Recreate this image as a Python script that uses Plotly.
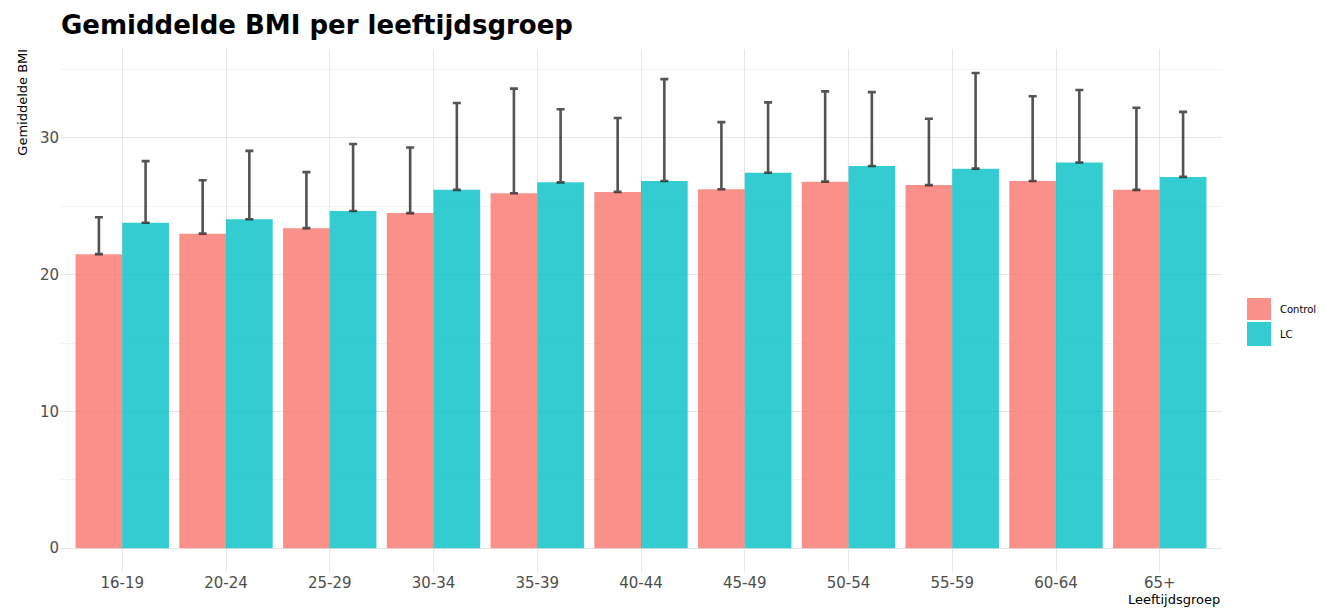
import plotly.graph_objects as go

categories = ["16-19", "20-24", "25-29", "30-34", "35-39", "40-44", "45-49", "50-54", "55-59", "60-64", "65+"]
control_mean = [21.5, 23.0, 23.4, 24.5, 25.95, 26.05, 26.25, 26.8, 26.55, 26.85, 26.2]
control_sd = [2.7, 3.9, 4.1, 4.8, 7.65, 5.4, 4.9, 6.6, 4.85, 6.2, 6.0]
lc_mean = [23.8, 24.05, 24.65, 26.2, 26.75, 26.85, 27.45, 27.95, 27.75, 28.2, 27.15]
lc_sd = [4.5, 5.0, 4.9, 6.35, 5.35, 7.45, 5.15, 5.4, 7.0, 5.3, 4.75]
series_names = ["Control", "LC"]
series_colors = ["rgba(248,118,109,0.8)", "rgba(0,191,196,0.8)"]

err_style = dict(type="data", symmetric=False, color="rgba(40,40,40,0.8)", thickness=2.6, width=4)

fig = go.Figure()
for name, color, mean, sd in zip(series_names, series_colors, [control_mean, lc_mean], [control_sd, lc_sd]):
    fig.add_trace(go.Bar(
        name=name, x=categories, y=mean, showlegend=False,
        marker=dict(color=color, line=dict(width=0)),
        error_y=dict(array=sd, arrayminus=[0] * len(categories), **err_style),
    ))

# legend drawn as key squares + labels (ggplot style, right side)
legend_top = [0.5239, 0.478]
legend_bottom = [0.4818, 0.4321]
for name, color, y1, y0 in zip(series_names, series_colors, legend_top, legend_bottom):
    fig.add_shape(type="rect", xref="paper", yref="paper", x0=1.0215, x1=1.0422, y0=y0, y1=y1,
                  fillcolor=color, line=dict(width=0))
    fig.add_annotation(text=name, xref="paper", yref="paper", x=1.048, y=(y0 + y1) / 2,
                       xanchor="left", yanchor="middle", showarrow=False,
                       font=dict(size=10, color="black"))

fig.update_layout(
    width=1318, height=601,
    margin=dict(l=52, r=104, t=41, b=37),
    plot_bgcolor="white", paper_bgcolor="white",
    barmode="group", bargap=0.1, bargroupgap=0,
    showlegend=False,
    font=dict(family="DejaVu Sans", color="#4d4d4d"),
    title=dict(text="<b>Gemiddelde BMI per leeftijdsgroep</b>", x=53 / 1318, xanchor="left",
               xref="container", y=0.972, yanchor="middle", yref="container",
               font=dict(size=26, color="black", family="DejaVu Sans")),
    xaxis=dict(range=[-0.6, 10.6], showgrid=True, gridcolor="#e6e6e6", gridwidth=1,
               ticks="", tickfont=dict(size=15, color="#4d4d4d"), showline=False, zeroline=False),
    yaxis=dict(range=[-1.74, 36.5], dtick=10, tick0=0, showgrid=True, gridcolor="#e6e6e6", gridwidth=1,
               minor=dict(dtick=5, tick0=0, showgrid=True, gridcolor="#f3f3f3", gridwidth=1),
               zeroline=True, zerolinecolor="#e6e6e6", zerolinewidth=1,
               ticks="", tickfont=dict(size=15, color="#4d4d4d"), showline=False),
)
fig.add_annotation(text="Leeftijdsgroep", xref="paper", yref="paper", x=1.0, y=-0.053,
                   xanchor="right", yanchor="middle", showarrow=False,
                   font=dict(size=13, color="black"))
fig.add_annotation(text="Gemiddelde BMI", xref="paper", yref="paper", x=-0.032, y=0.899,
                   xanchor="center", yanchor="middle", textangle=-90, showarrow=False,
                   font=dict(size=13, color="black"))

fig.write_html("out.html")
